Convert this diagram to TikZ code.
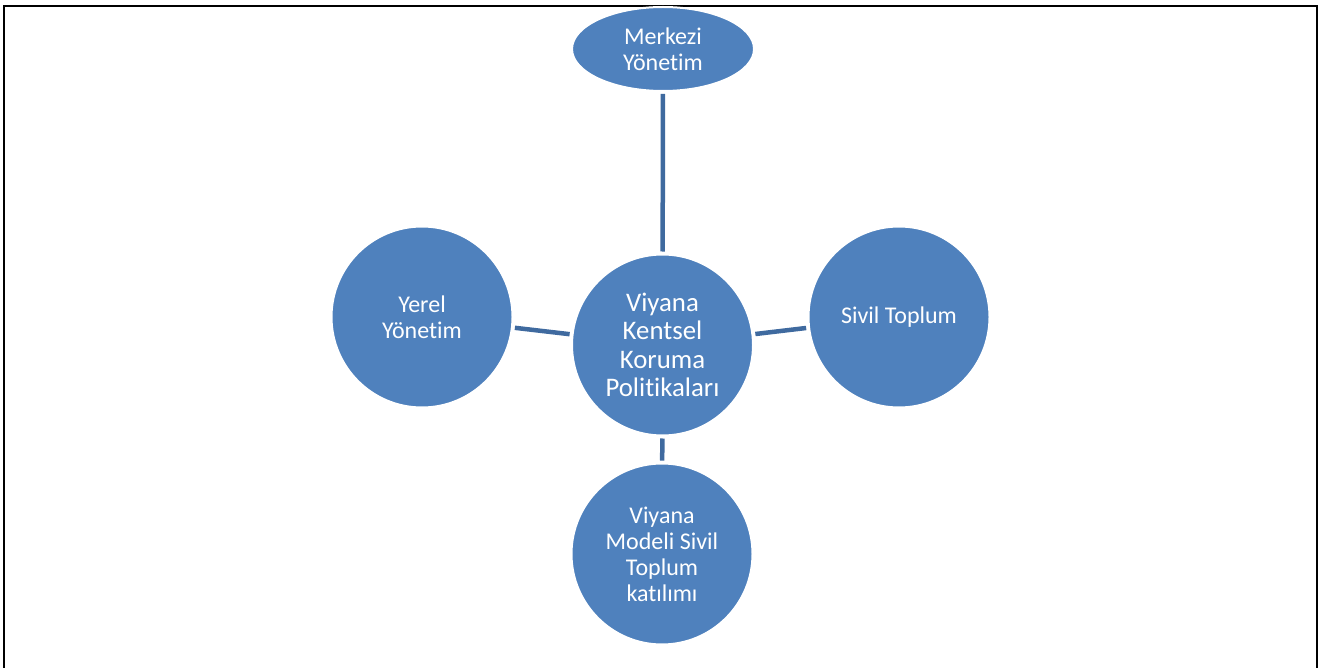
\documentclass[tikz,border=0pt]{standalone}
\usepackage{fontspec}
\setmainfont[Ligatures={NoCommon}]{Carlito}
\usetikzlibrary{shapes.geometric}
\definecolor{bubblefill}{HTML}{4F81BD}
\definecolor{spoke}{HTML}{3F6A9F}
\tikzset{
  bubble/.style={circle, fill=bubblefill, draw=white, line width=2pt,
    minimum size=181pt, inner sep=0pt, text=white, align=center,
    font=\fontsize{24}{26}\selectfont},
  hub/.style={bubble, font=\fontsize{26.8}{28.5}\selectfont},
  spokeline/.style={draw=spoke, line width=4.5pt, shorten <=2pt, shorten >=2pt}
}

\begin{document}
\begin{tikzpicture}[x=1pt,y=-1pt]
  \useasboundingbox (0,0) rectangle (1322,668);
  % frame
  \draw[line width=2.2pt] (4.3,668) |- (1316.8,6.2) -- (1316.8,668);
  % nodes
  \node[hub] (hub) at (662.5,345) {Viyana\\Kentsel\\Koruma\\Politikaları};
  \node[bubble, ellipse, minimum width=182pt, minimum height=84pt] (merkezi) at (663,49) {Merkezi\\Yönetim};
  \node[bubble] (yerel) at (422,317) {Yerel\\Yönetim};
  \node[bubble] (sivil) at (899,317) {Sivil Toplum};
  \node[bubble] (model) at (662,554) {Viyana\\Modeli Sivil\\Toplum\\katılımı};
  % spokes
  \draw[spokeline] (hub) -- (merkezi);
  \draw[spokeline] (hub) -- (yerel);
  \draw[spokeline] (hub) -- (sivil);
  \draw[spokeline] (hub) -- (model);
\end{tikzpicture}
\end{document}
